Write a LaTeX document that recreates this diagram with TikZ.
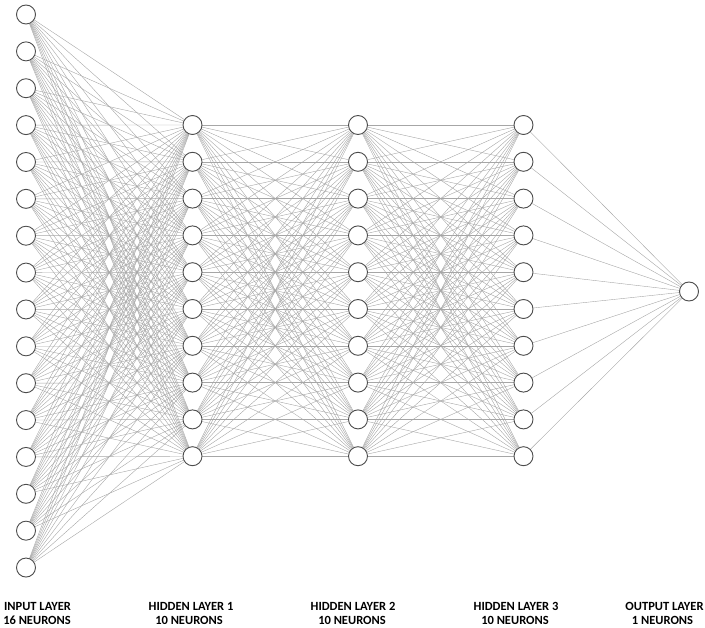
\documentclass[tikz,border=0pt]{standalone}
\usepackage{fontspec}
\setmainfont{Carlito}
\usetikzlibrary{backgrounds}
\begin{document}
\begin{tikzpicture}[x=1pt,y=-1pt,
  neuron/.style={circle,draw=black!70,fill=white,line width=0.9pt,minimum size=19pt,inner sep=0pt},
  conn/.style={draw=black!35,line width=0.4pt},
  lbl/.style={font=\bfseries\fontsize{12.5}{14}\selectfont,anchor=base,inner sep=0pt}]
\useasboundingbox (0,0) rectangle (705,628);
% input layer
\foreach \i in {1,...,16} \node[neuron] (I\i) at (26,{14.5+36.87*(\i-1)}) {};
% hidden layers
\foreach \l/\x in {1/192.5,2/358,3/523.5}
  \foreach \j in {1,...,10} \node[neuron] (H\l-\j) at (\x,{125+36.8*(\j-1)}) {};
% output
\node[neuron] (O) at (689,291.5) {};
\begin{scope}[on background layer]
\foreach \i in {1,...,16} \foreach \j in {1,...,10} \draw[conn] (I\i) -- (H1-\j);
\foreach \i in {1,...,10} \foreach \j in {1,...,10} {\draw[conn] (H1-\i) -- (H2-\j); \draw[conn] (H2-\i) -- (H3-\j);}
\foreach \i in {1,...,10} \draw[conn] (H3-\i) -- (O);
\end{scope}
% labels
\node[lbl] (l1a) at (37.5,610) {INPUT LAYER};
\node[lbl] (l1b) at (37,624) {16 NEURONS};
\node[lbl] (l2a) at (191,610) {HIDDEN LAYER 1};
\node[lbl] (l2b) at (189,624) {10 NEURONS};
\node[lbl] (l3a) at (353,610) {HIDDEN LAYER 2};
\node[lbl] (l3b) at (352,624) {10 NEURONS};
\node[lbl] (l4a) at (516,610) {HIDDEN LAYER 3};
\node[lbl] (l4b) at (515,624) {10 NEURONS};
\node[lbl] (l5a) at (664.5,610) {OUTPUT LAYER};
\node[lbl] (l5b) at (662.5,624) {1 NEURONS};
\end{tikzpicture}
\end{document}
